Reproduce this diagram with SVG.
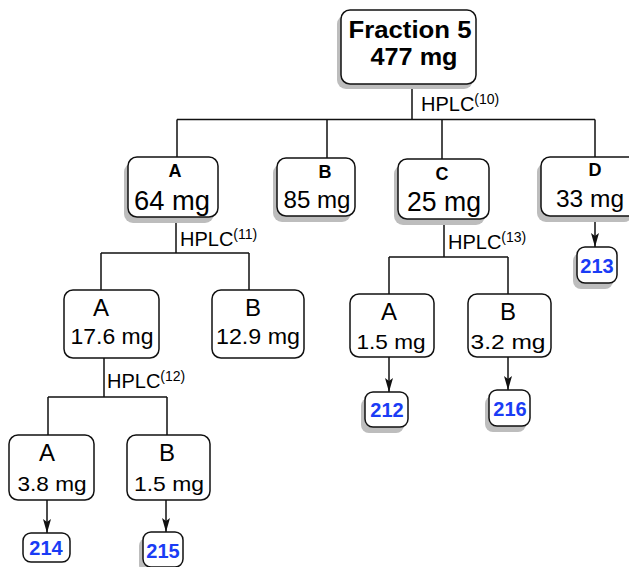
<svg xmlns="http://www.w3.org/2000/svg" width="629" height="567" viewBox="0 0 629 567">
<style>
.box{fill:#fff;stroke:#111;stroke-width:1.5}
.sh{fill:#bdbdbd}
.ln{fill:none;stroke:#111;stroke-width:1.5}
text{font-family:"Liberation Sans",Arial,sans-serif;fill:#000;text-anchor:middle}
.b{font-weight:bold}
.blue{fill:#1a3cf5;font-weight:bold;font-size:20px}
.hp{font-size:20px;text-anchor:start}
.sup{font-size:14px}
</style>
<defs>
<marker id="ah" viewBox="0 0 14 8" refX="14" refY="4" markerWidth="14" markerHeight="8" markerUnits="userSpaceOnUse" orient="auto">
<path d="M0,0 L14,4 L0,8 L3,4 Z" fill="#111"/>
</marker>
</defs>
<g id="connectors">
<path class="ln" d="M412,84 V119.5 M177,119.5 H595 M177,119.5 V157 M327,119.5 V158 M442,119.5 V159 M595,119.5 V157"/>
<path class="ln" d="M176,217 V253 M101,253 H249 M101,253 V290 M249,253 V290"/>
<path class="ln" d="M104,358 V397 M48,397 H167 M48,397 V435 M167,397 V435"/>
<path class="ln" d="M444,219 V257 M389,257 H508 M389,257 V294 M508,257 V294"/>
<path class="ln" d="M595,216 V247" marker-end="url(#ah)"/>
<path class="ln" d="M389,357 V392" marker-end="url(#ah)"/>
<path class="ln" d="M508,357 V390" marker-end="url(#ah)"/>
<path class="ln" d="M47,500 V533" marker-end="url(#ah)"/>
<path class="ln" d="M166,500 V532" marker-end="url(#ah)"/>
<text class="hp" x="421" y="111">HPLC<tspan class="sup" dy="-7">(10)</tspan></text>
<text class="hp" x="180" y="246">HPLC<tspan class="sup" dy="-7">(11)</tspan></text>
<text class="hp" x="107" y="388">HPLC<tspan class="sup" dy="-7">(12)</tspan></text>
<text class="hp" x="448" y="249">HPLC<tspan class="sup" dy="-7">(13)</tspan></text>
</g>
<g id="fraction5">
<rect class="sh" x="337" y="15" width="136" height="74" rx="9"/>
<rect class="box" x="341" y="10" width="135" height="74" rx="9"/>
<text class="b" x="410" y="38" font-size="23" textLength="123" lengthAdjust="spacingAndGlyphs">Fraction 5</text>
<text class="b" x="414" y="65" font-size="23" textLength="87" lengthAdjust="spacingAndGlyphs">477 mg</text>
</g>
<g id="nA">
<rect class="sh" x="124" y="163" width="90" height="60" rx="9"/>
<rect class="box" x="128" y="157" width="90" height="60" rx="9"/>
<text class="b" x="175" y="177" font-size="18">A</text>
<text x="172" y="210" font-size="27" textLength="76" lengthAdjust="spacingAndGlyphs">64 mg</text>
</g>
<g id="nB">
<rect class="sh" x="273" y="164" width="78" height="58" rx="9"/>
<rect class="box" x="277" y="158" width="78" height="58" rx="9"/>
<text class="b" x="325" y="178" font-size="18">B</text>
<text x="317" y="208" font-size="24" textLength="67" lengthAdjust="spacingAndGlyphs">85 mg</text>
</g>
<g id="nC">
<rect class="sh" x="394" y="165" width="91" height="60" rx="9"/>
<rect class="box" x="398" y="159" width="91" height="60" rx="9"/>
<text class="b" x="442" y="180" font-size="18">C</text>
<text x="444" y="211" font-size="27" textLength="74" lengthAdjust="spacingAndGlyphs">25 mg</text>
</g>
<g id="nD">
<rect class="sh" x="537" y="163" width="96" height="59" rx="9"/>
<rect class="box" x="541" y="157" width="96" height="59" rx="9"/>
<text class="b" x="595" y="176" font-size="18">D</text>
<text x="590" y="207" font-size="24" textLength="68" lengthAdjust="spacingAndGlyphs">33 mg</text>
</g>
<g id="nA1">
<rect class="box" x="64" y="290" width="95" height="68" rx="9"/>
<text x="101" y="316" font-size="24">A</text>
<text x="112" y="344" font-size="22" textLength="83" lengthAdjust="spacingAndGlyphs">17.6 mg</text>
</g>
<g id="nB1">
<rect class="box" x="212" y="290" width="92" height="68" rx="9"/>
<text x="253" y="316" font-size="24">B</text>
<text x="258" y="344" font-size="22" textLength="84" lengthAdjust="spacingAndGlyphs">12.9 mg</text>
</g>
<g id="nA3">
<rect class="box" x="350" y="294" width="84" height="63" rx="9"/>
<text x="389" y="320" font-size="24">A</text>
<text x="391" y="349" font-size="21" textLength="69" lengthAdjust="spacingAndGlyphs">1.5 mg</text>
</g>
<g id="nB3">
<rect class="box" x="468" y="294" width="83" height="63" rx="9"/>
<text x="508" y="320" font-size="24">B</text>
<text x="508" y="349" font-size="21" textLength="75" lengthAdjust="spacingAndGlyphs">3.2 mg</text>
</g>
<g id="nA2">
<rect class="box" x="9" y="435" width="85" height="65" rx="9"/>
<text x="47" y="461" font-size="24">A</text>
<text x="52" y="491" font-size="21" textLength="69" lengthAdjust="spacingAndGlyphs">3.8 mg</text>
</g>
<g id="nB2">
<rect class="box" x="127" y="435" width="83" height="65" rx="9"/>
<text x="167" y="461" font-size="24">B</text>
<text x="169" y="491" font-size="21" textLength="70" lengthAdjust="spacingAndGlyphs">1.5 mg</text>
</g>
<g id="n213">
<rect class="sh" x="573" y="253" width="40" height="36" rx="8"/>
<rect class="box" x="577" y="247" width="40" height="36" rx="8"/>
<text class="blue" x="597" y="273">213</text>
</g>
<g id="n212">
<rect class="sh" x="361" y="398" width="43" height="35" rx="8"/>
<rect class="box" x="365" y="392" width="43" height="35" rx="8"/>
<text class="blue" x="387" y="417">212</text>
</g>
<g id="n216">
<rect class="sh" x="485" y="396" width="41" height="36" rx="8"/>
<rect class="box" x="489" y="390" width="41" height="36" rx="8"/>
<text class="blue" x="510" y="416">216</text>
</g>
<g id="n214">
<rect class="box" x="23" y="533" width="47" height="29" rx="8"/>
<text class="blue" x="46" y="555">214</text>
</g>
<g id="n215">
<rect class="sh" x="139" y="538" width="40" height="35" rx="8"/>
<rect class="box" x="143" y="532" width="40" height="35" rx="8"/>
<text class="blue" x="163" y="558">215</text>
</g>
</svg>
